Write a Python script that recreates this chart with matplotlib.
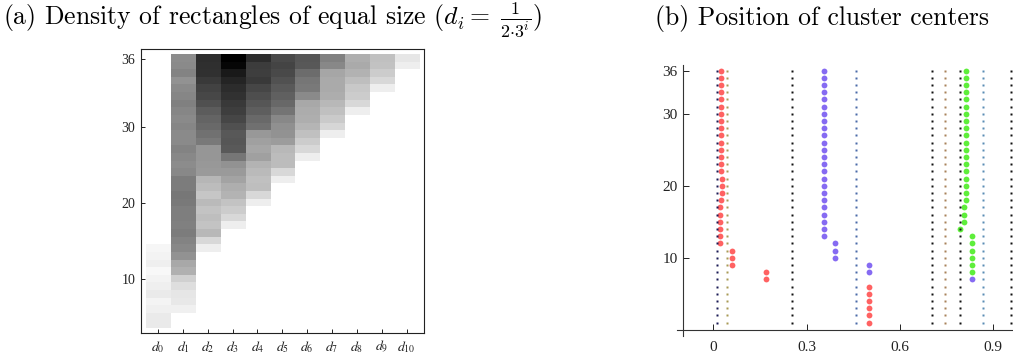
import numpy as np
import matplotlib.pyplot as plt

plt.rcParams['font.family'] = 'serif'
plt.rcParams['font.serif'] = ['Liberation Serif', 'DejaVu Serif']
plt.rcParams['mathtext.fontset'] = 'stix'

# (a) density per column d_0..d_10, listed from the lowest filled row upward
start_row = [1, 3, 11, 14, 17, 20, 23, 26, 29, 32, 35]
density = [
    [21, 21, 15, 11, 21, 16, 12, 7, 16, 12, 9],
    [15, 23, 25, 33, 47, 79, 87, 109, 119, 123, 131, 127, 129, 129, 133, 136, 131,
     131, 119, 115, 119, 123, 117, 117, 121, 117, 121, 127, 121, 117, 109, 123, 117, 115],
    [17, 39, 71, 59, 65, 59, 69, 57, 67, 73, 101, 103, 105, 105, 133, 142, 149, 155,
     163, 175, 184, 188, 197, 207, 208, 210],
    [17, 39, 51, 59, 75, 81, 91, 101, 109, 137, 165, 169, 167, 175, 185, 193, 197,
     205, 211, 219, 229, 249, 255],
    [17, 39, 65, 63, 69, 75, 95, 89, 95, 103, 143, 149, 161, 169, 177, 185, 197, 193, 195, 211],
    [17, 39, 67, 67, 71, 99, 109, 111, 119, 139, 151, 159, 165, 173, 181, 187, 181],
    [17, 39, 51, 63, 74, 81, 83, 87, 117, 133, 137, 147, 167, 169],
    [17, 41, 53, 63, 71, 82, 85, 85, 89, 119, 127],
    [17, 39, 51, 55, 65, 77, 85, 81],
    [17, 39, 51, 61, 63],
    [17, 25],
]
col_labels = [r'$d_{%d}$' % i for i in range(11)]
ytick_pos_a = [7, 17, 27, 36]
ytick_lab_a = ['10', '20', '30', '36']

# (b) cluster centers, one value per row 1..36
rows = np.arange(1, 37)
red_x = [0.502, 0.502, 0.502, 0.502, 0.502, 0.502, 0.169, 0.169, 0.060, 0.060, 0.060,
         0.023, 0.023, 0.023, 0.023, 0.023, 0.023, 0.024, 0.028, 0.028, 0.028,
         0.025, 0.025, 0.025, 0.025, 0.025, 0.025, 0.025, 0.025, 0.025, 0.025,
         0.025, 0.025, 0.025, 0.025, 0.025]
purple_y = np.arange(7, 37)
purple_x = [0.833, 0.502, 0.502, 0.391, 0.391, 0.391,
            0.355, 0.355, 0.355, 0.355, 0.355, 0.355, 0.355, 0.355, 0.355, 0.355,
            0.355, 0.355, 0.355, 0.355, 0.355, 0.355, 0.355, 0.355, 0.355, 0.355,
            0.355, 0.355, 0.355, 0.355]
green_y = np.arange(8, 37)
green_x = [0.833, 0.833, 0.833, 0.833, 0.833, 0.833, 0.794, 0.807, 0.807, 0.807,
           0.812, 0.812, 0.812, 0.812, 0.812, 0.813, 0.813, 0.813, 0.813, 0.813,
           0.813, 0.813, 0.813, 0.813, 0.813, 0.813, 0.813, 0.813, 0.813]
guide_x = [0.013, 0.045, 0.254, 0.458, 0.704, 0.744, 0.794, 0.867, 0.956]
guide_c = ['#1a1a55', '#a89a55', '#111111', '#4a6aa8', '#111111', '#a8825a',
           '#111111', '#5a8db5', '#111111']

W, H = 1013, 361
fig = plt.figure(figsize=(W / 100, H / 100), dpi=100)

# ---- panel (a)
ax1 = fig.add_axes([140.7 / W, (H - 333.3) / H, (424 - 140.7) / W, (333.3 - 49) / H])
grid = np.zeros((36, 11))
for j, vals in enumerate(density):
    for k, v in enumerate(vals):
        grid[start_row[j] - 1 + k, j] = v
ax1.imshow(grid, origin='lower', cmap='gray_r', vmin=0, vmax=255, aspect='auto',
           interpolation='nearest', extent=(-0.5, 10.5, 0.5, 36.5))
ax1.set_xlim(-0.7, 10.7)
ax1.set_ylim(-0.16, 37.29)
ax1.set_xticks(range(11))
ax1.set_xticklabels(col_labels)
ax1.set_yticks(ytick_pos_a)
ax1.set_yticklabels(ytick_lab_a)
ax1.tick_params(direction='in', length=3, width=0.7, labelsize=10, pad=4, colors='#222222')
for s in ax1.spines.values():
    s.set_color('#222222')
    s.set_linewidth(0.8)

# ---- panel (b)
ax2 = fig.add_axes([676.7 / W, (H - 336) / H, (W - 676.7) / W, (336 - 65) / H])
ax2.plot(red_x, rows, 'o', color='#ff5a5a', ms=4.2, mec='none', alpha=0.95)
ax2.plot(purple_x, purple_y, 'o', color='#8063f2', ms=4.2, mec='none', alpha=0.95)
ax2.plot(green_x, green_y, 'o', color='#55ee30', ms=4.2, mec='none', alpha=0.95)
for gx, gc in zip(guide_x, guide_c):
    ax2.plot([gx] * len(rows), rows, 's', color=gc, ms=1.9, mec='none')
ax2.set_xlim(-0.1177, 0.9637)
ax2.set_ylim(-0.85, 36.79)
ax2.spines['left'].set_position(('data', -0.096))
ax2.spines['bottom'].set_position(('data', 0))
ax2.spines['top'].set_visible(False)
ax2.spines['right'].set_visible(False)
for s in ('left', 'bottom'):
    ax2.spines[s].set_color('#333333')
    ax2.spines[s].set_linewidth(0.8)
ax2.set_xticks([0, 0.3, 0.6, 0.9])
ax2.set_xticklabels(['0', '0.3', '0.6', '0.9'])
ax2.set_yticks([10, 20, 30, 36])
ax2.tick_params(direction='in', length=4, width=0.7, labelsize=11, colors='#222222')
ax2.tick_params(axis='x', pad=8)
ax2.tick_params(axis='y', pad=4)

# ---- titles
base = 1 - 21 / H
ta = fig.text(3 / W, base, r'(a) Density of rectangles of equal size ($d_i = \;\frac{1}{2{\cdot}3^i}$)',
              fontsize=18.5, family='cmr10', math_fontfamily='cm', va='baseline', ha='left')
tb = fig.text(655 / W, base, '(b) Position of cluster centers',
              fontsize=18.5, family='cmr10', math_fontfamily='cm', va='baseline', ha='left')
# keep the fraction inside the figure
fig.canvas.draw()
over = ta.get_window_extent().y1 - (H - 1)
if over > 0:
    for t in (ta, tb):
        t.set_y(base - over / H)

fig.savefig('out.png', dpi=100)
